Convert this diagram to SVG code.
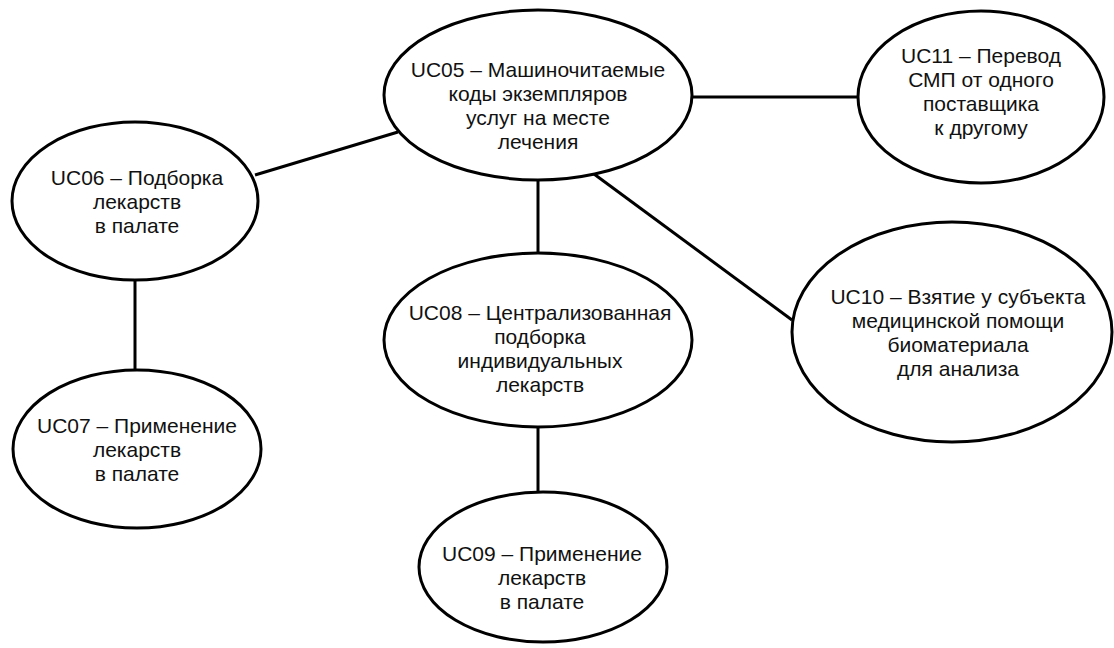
<svg xmlns="http://www.w3.org/2000/svg" width="1114" height="648" viewBox="0 0 1114 648">
<style>
.node ellipse{fill:#fff;stroke:#000;stroke-width:3}
.node text{font-family:"Liberation Sans",Arial,sans-serif;font-size:21px;fill:#111;text-anchor:middle}
#connectors line{stroke:#000;stroke-width:3;stroke-linecap:butt}
</style>
<rect width="1114" height="648" fill="#fff"/>
<g id="connectors">
<line x1="255" y1="175" x2="398" y2="132"/>
<line x1="692" y1="97" x2="858" y2="97"/>
<line x1="538" y1="180" x2="538" y2="253"/>
<line x1="594" y1="174" x2="792" y2="320"/>
<line x1="135" y1="280" x2="135" y2="370"/>
<line x1="538" y1="427" x2="538" y2="493"/>
</g>
<g id="UC05" class="node">
<ellipse cx="538" cy="95" rx="154" ry="85"/>
<text x="538" y="77">UC05 – Машиночитаемые</text>
<text x="538" y="101">коды экземпляров</text>
<text x="538" y="125">услуг на месте</text>
<text x="538" y="149">лечения</text>
</g>
<g id="UC11" class="node">
<ellipse cx="981" cy="97" rx="123" ry="86"/>
<text x="981" y="63">UC11 – Перевод</text>
<text x="981" y="87">СМП от одного</text>
<text x="981" y="111">поставщика</text>
<text x="981" y="135">к другому</text>
</g>
<g id="UC06" class="node">
<ellipse cx="135" cy="201" rx="123" ry="79"/>
<text x="137" y="185">UC06 – Подборка</text>
<text x="137" y="209">лекарств</text>
<text x="137" y="233">в палате</text>
</g>
<g id="UC07" class="node">
<ellipse cx="137" cy="449" rx="124" ry="79"/>
<text x="137" y="433">UC07 – Применение</text>
<text x="137" y="457">лекарств</text>
<text x="137" y="481">в палате</text>
</g>
<g id="UC08" class="node">
<ellipse cx="538" cy="340" rx="154" ry="87"/>
<text x="540" y="320">UC08 – Централизованная</text>
<text x="540" y="344">подборка</text>
<text x="540" y="368">индивидуальных</text>
<text x="540" y="392">лекарств</text>
</g>
<g id="UC09" class="node">
<ellipse cx="543" cy="567" rx="124" ry="75"/>
<text x="542" y="561">UC09 – Применение</text>
<text x="542" y="585">лекарств</text>
<text x="542" y="609">в палате</text>
</g>
<g id="UC10" class="node">
<ellipse cx="952" cy="332" rx="160" ry="110"/>
<text x="958" y="304">UC10 – Взятие у субъекта</text>
<text x="958" y="328">медицинской помощи</text>
<text x="958" y="352">биоматериала</text>
<text x="958" y="376">для анализа</text>
</g>
</svg>
